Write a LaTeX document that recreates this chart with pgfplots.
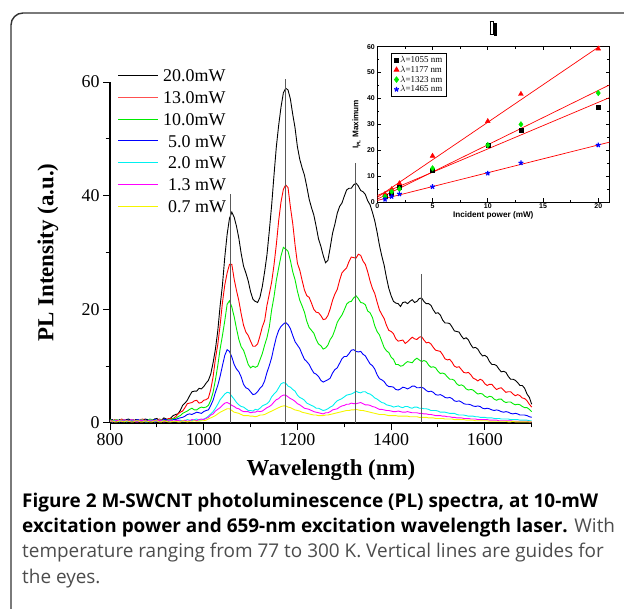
\documentclass[border=0pt]{standalone}
\usepackage{fontspec}
\setmainfont{Liberation Serif}
\newfontfamily\capfont{Open Sans}
\newfontfamily\arialfont{Liberation Sans}
\usepackage{pgfplots}
\usepackage{pgfplotstable}
\pgfplotsset{compat=1.18}
\definecolor{cred}{RGB}{255,0,0}
\definecolor{lred}{RGB}{255,80,80}
\definecolor{cgreen}{RGB}{0,235,0}
\definecolor{cblue}{RGB}{0,0,255}
\definecolor{ccyan}{RGB}{0,240,240}
\definecolor{cmag}{RGB}{255,0,255}
\definecolor{cyel}{RGB}{245,245,0}
\definecolor{guide}{RGB}{90,90,90}

\pgfplotstableread{
wl a b c d e f g
800 0.5 0.3 0.6 0.4 0.3 0.5 0.3
805 0.6 0.3 0.3 0.5 0.2 0.2 0.4
810 0.3 0.6 0.4 0.2 0.5 0.3 0.2
815 0.2 0.4 0.6 0.3 0.4 0.5 0.2
820 0.6 0.4 0.3 0.5 0.2 0.4 0.4
825 0.3 0.7 0.4 0.2 0.5 0.3 0.3
830 0.4 0.5 0.6 0.3 0.4 0.6 0.2
835 0.6 0.3 0.3 0.5 0.2 0.4 0.4
840 0.7 0.3 0.4 0.5 0.3 0.3 0.3
845 0.4 0.5 0.6 0.2 0.5 0.6 0.2
850 0.3 0.6 0.5 0.3 0.5 0.5 0.2
855 0.6 0.3 0.3 0.5 0.3 0.2 0.4
860 0.5 0.4 0.3 0.6 0.3 0.2 0.4
865 0.3 0.6 0.5 0.3 0.5 0.5 0.2
870 0.4 0.7 0.5 0.3 0.5 0.4 0.2
875 0.7 0.4 0.3 0.5 0.2 0.3 0.4
880 0.6 0.3 0.4 0.5 0.2 0.3 0.3
885 0.3 0.5 0.7 0.3 0.5 0.5 0.2
890 0.4 0.5 0.6 0.3 0.4 0.5 0.2
895 0.7 0.3 0.4 0.6 0.2 0.3 0.4
900 0.8 0.4 0.3 0.5 0.3 0.3 0.4
905 0.4 0.7 0.5 0.3 0.5 0.5 0.2
910 0.5 0.6 0.5 0.4 0.5 0.4 0.2
915 0.9 0.4 0.3 0.6 0.3 0.2 0.4
920 0.7 0.5 0.4 0.6 0.3 0.3 0.3
925 0.6 0.8 0.6 0.3 0.5 0.5 0.2
930 0.9 0.8 0.6 0.4 0.4 0.5 0.2
935 1.3 0.8 0.8 0.6 0.3 0.3 0.3
940 1.5 1.1 0.8 0.6 0.3 0.4 0.3
945 1.6 1.6 1.1 0.8 0.5 0.5 0.2
950 2.2 1.9 1.3 0.9 0.5 0.3 0.2
955 3.1 2.1 1.7 1.0 0.3 0.4 0.4
960 3.5 2.7 1.9 1.2 0.4 0.5 0.3
965 4.0 3.4 2.1 1.5 0.6 0.3 0.2
970 4.8 3.5 2.4 1.6 0.5 0.4 0.3
975 5.5 3.6 2.6 1.5 0.4 0.6 0.3
980 5.6 3.9 2.3 1.7 0.6 0.5 0.4
985 5.6 4.0 2.3 1.9 0.7 0.4 0.3
990 6.1 3.5 2.6 1.8 0.5 0.6 0.3
995 6.0 3.6 2.8 1.7 0.5 0.7 0.4
1000 6.4 4.0 2.7 2.0 0.7 0.6 0.4
1005 7.0 4.1 2.8 2.2 0.9 0.8 0.5
1010 7.5 4.4 3.1 2.3 1.2 1.0 0.7
1015 8.6 5.9 4.0 3.1 1.6 1.4 0.9
1020 10.6 8.1 5.4 4.0 2.0 1.6 1.1
1025 13.0 11.3 7.6 5.4 2.6 2.1 1.3
1030 16.2 13.8 10.1 6.6 3.3 2.4 1.6
1035 20.6 17.2 13.0 8.2 4.1 2.7 1.9
1040 24.3 21.2 15.4 10.1 4.6 3.1 2.1
1045 29.2 24.3 18.0 11.9 5.1 3.5 2.3
1050 33.2 26.4 20.9 12.9 5.4 3.6 2.5
1055 36.0 27.9 21.5 12.6 5.3 3.4 2.5
1060 37.1 27.9 20.4 11.6 4.7 3.1 2.2
1065 36.2 25.3 18.7 10.3 4.2 2.9 1.9
1070 34.6 23.3 16.6 9.5 3.6 2.6 1.8
1075 32.5 21.5 14.7 9.0 3.2 2.5 1.7
1080 29.8 19.2 13.4 8.1 2.9 2.2 1.5
1085 27.6 17.2 12.8 6.8 2.8 2.0 1.3
1090 26.4 16.0 11.6 6.2 2.5 2.0 1.3
1095 25.0 15.4 10.3 6.0 2.2 2.0 1.3
1100 23.1 14.4 9.7 5.5 2.2 1.8 1.2
1105 21.8 13.5 10.0 5.0 2.1 1.9 1.2
1110 21.4 13.5 9.8 5.1 2.4 1.9 1.1
1115 21.2 13.9 10.0 5.5 2.3 2.1 1.2
1120 22.1 15.3 11.1 6.1 2.6 2.0 1.4
1125 24.0 16.9 12.2 6.5 3.0 2.1 1.4
1130 26.6 18.0 13.7 7.4 3.2 2.4 1.5
1135 29.6 20.7 15.0 8.9 3.4 2.7 1.7
1140 33.8 22.7 16.9 10.1 3.8 2.9 1.9
1145 38.3 24.8 19.9 11.5 4.6 3.2 2.1
1150 43.6 27.8 22.2 13.4 5.1 3.7 2.3
1155 48.6 31.4 25.1 15.1 5.5 4.1 2.5
1160 52.4 35.6 27.3 16.3 6.2 4.3 2.7
1165 55.6 38.9 29.4 17.0 6.9 4.7 2.9
1170 58.1 41.1 30.9 17.4 7.1 4.9 3.0
1175 58.9 41.9 30.6 17.7 7.0 4.9 3.0
1180 58.6 41.4 30.2 17.3 6.5 4.6 2.8
1185 57.0 38.0 28.6 16.6 6.3 4.3 2.7
1190 54.3 35.1 26.6 15.4 5.9 4.1 2.5
1195 51.9 31.3 25.2 14.3 5.6 3.8 2.3
1200 48.6 28.1 23.2 13.7 4.9 3.4 2.2
1205 46.4 26.9 21.6 13.1 4.5 3.2 2.1
1210 44.9 25.1 20.6 12.1 4.3 2.9 1.9
1215 43.6 23.4 19.5 11.2 4.0 2.6 1.8
1220 41.6 22.4 17.9 10.8 3.5 2.5 1.7
1225 39.4 22.1 16.8 10.3 3.3 2.4 1.6
1230 37.9 21.1 16.3 9.5 3.1 2.2 1.5
1235 36.6 20.0 15.8 8.8 2.9 2.0 1.4
1240 34.6 19.5 14.7 8.6 2.6 1.9 1.4
1245 32.4 19.4 13.9 8.2 2.6 1.8 1.3
1250 31.1 18.9 13.6 7.5 2.4 1.7 1.3
1255 29.5 18.2 13.0 7.2 2.2 1.6 1.3
1260 28.2 18.3 13.2 7.4 2.3 1.8 1.4
1265 28.6 18.9 13.7 7.6 2.5 1.8 1.4
1270 30.9 20.1 14.7 7.9 2.8 2.0 1.5
1275 33.4 21.6 15.3 8.8 3.0 2.3 1.6
1280 35.0 22.7 16.4 9.4 3.5 2.4 1.7
1285 36.9 23.5 17.7 9.7 3.9 2.5 1.8
1290 38.1 25.1 18.4 10.5 4.1 2.8 1.9
1295 38.7 26.4 19.0 11.3 4.3 3.0 2.0
1300 39.9 26.9 19.9 11.7 4.6 3.1 2.1
1305 41.0 27.3 20.9 11.7 4.9 3.3 2.2
1310 41.3 28.4 21.3 12.2 5.0 3.3 2.2
1315 41.3 29.2 21.4 12.8 5.1 3.5 2.3
1320 41.9 29.1 22.0 12.9 5.3 3.4 2.3
1325 42.2 29.0 22.4 12.6 5.6 3.4 2.4
1330 41.7 29.7 21.9 12.5 5.4 3.5 2.3
1335 40.9 29.5 21.2 12.6 5.3 3.6 2.2
1340 40.7 28.5 21.1 12.1 5.5 3.4 2.2
1345 40.2 27.9 20.8 11.8 5.5 3.2 2.1
1350 39.1 26.6 19.7 11.1 5.2 3.2 2.0
1355 38.4 25.0 19.4 10.4 5.1 3.1 1.9
1360 37.1 23.7 18.6 10.1 4.8 2.9 1.8
1365 35.6 22.8 17.1 9.5 4.4 2.8 1.7
1370 33.6 21.3 16.1 8.5 4.2 2.6 1.6
1375 31.3 19.9 15.5 7.8 3.9 2.4 1.5
1380 29.4 19.1 14.4 7.6 3.6 2.4 1.5
1385 27.8 18.4 13.3 7.3 3.5 2.3 1.5
1390 25.6 17.2 12.7 6.7 3.2 2.2 1.4
1395 23.7 16.3 12.4 6.4 3.1 2.2 1.3
1400 22.4 16.1 11.6 6.4 3.0 2.1 1.3
1405 21.4 15.7 11.2 6.3 2.8 2.0 1.3
1410 21.1 14.8 10.3 5.9 2.9 2.0 1.3
1415 21.0 14.4 10.3 5.8 3.0 2.1 1.2
1420 20.5 14.5 10.0 6.0 2.8 2.0 1.2
1425 21.2 14.6 10.1 6.3 2.7 1.9 1.2
1430 21.3 14.0 10.5 6.2 2.9 1.9 1.2
1435 21.0 14.3 10.8 6.0 2.9 2.0 1.2
1440 21.4 14.7 10.7 6.2 2.7 1.9 1.1
1445 21.7 15.1 10.6 6.5 2.6 1.8 1.1
1450 21.2 14.8 11.1 6.5 2.8 1.8 1.1
1455 21.4 14.7 11.4 6.2 2.8 1.8 1.1
1460 21.9 15.1 11.1 6.2 2.6 1.7 1.0
1465 22.0 15.2 10.8 6.3 2.6 1.7 1.0
1470 21.4 14.6 11.0 6.1 2.5 1.6 1.0
1475 21.0 14.1 10.8 5.7 2.5 1.6 1.0
1480 21.0 14.2 10.2 5.5 2.4 1.5 0.9
1485 20.7 13.9 9.8 5.6 2.2 1.5 0.9
1490 19.9 13.3 9.9 5.4 2.2 1.4 0.9
1495 19.3 12.8 9.7 5.0 2.2 1.3 0.8
1500 19.4 12.7 9.1 4.9 2.1 1.3 0.8
1505 19.0 12.6 8.7 5.0 1.9 1.3 0.8
1510 18.1 12.0 8.8 4.8 1.9 1.2 0.8
1515 17.6 11.3 8.6 4.5 1.9 1.2 0.7
1520 17.6 11.1 8.1 4.4 1.8 1.1 0.7
1525 17.5 11.2 7.7 4.5 1.7 1.1 0.7
1530 16.9 10.7 7.7 4.3 1.7 1.0 0.7
1535 16.2 10.0 7.5 3.9 1.7 1.0 0.6
1540 16.1 9.8 6.9 3.8 1.5 0.9 0.6
1545 16.0 9.9 6.6 3.9 1.4 0.9 0.6
1550 15.3 9.4 6.7 3.7 1.4 0.9 0.6
1555 14.8 8.9 6.5 3.4 1.4 0.8 0.6
1560 15.0 8.8 6.0 3.3 1.3 0.8 0.5
1565 14.6 8.9 5.8 3.3 1.2 0.8 0.5
1570 13.8 8.5 5.9 3.2 1.2 0.7 0.5
1575 13.2 7.9 5.8 3.0 1.2 0.7 0.5
1580 13.3 7.7 5.4 2.9 1.1 0.7 0.4
1585 13.0 7.4 5.1 3.0 1.1 0.6 0.4
1590 12.3 7.7 5.2 2.9 1.0 0.6 0.4
1595 11.8 7.5 5.1 2.6 1.0 0.6 0.4
1600 11.9 6.9 4.7 2.5 1.0 0.6 0.4
1605 11.6 6.6 4.5 2.6 0.9 0.6 0.4
1610 10.8 6.8 4.7 2.5 0.9 0.5 0.3
1615 10.3 6.8 4.6 2.3 0.9 0.5 0.3
1620 10.3 6.3 4.2 2.2 0.8 0.5 0.3
1625 10.1 5.9 4.0 2.3 0.8 0.5 0.3
1630 9.5 6.1 4.2 2.2 0.8 0.4 0.3
1635 9.0 6.2 4.2 2.0 0.7 0.4 0.3
1640 9.1 5.8 3.8 1.9 0.7 0.4 0.3
1645 8.9 5.4 3.6 2.0 0.7 0.4 0.3
1650 8.2 5.5 3.7 1.9 0.7 0.4 0.2
1655 7.7 5.5 3.7 1.7 0.6 0.4 0.2
1660 7.7 5.1 3.4 1.6 0.6 0.3 0.3
1665 7.5 4.8 3.2 1.7 0.6 0.3 0.2
1670 7.1 5.0 3.3 1.6 0.6 0.3 0.2
1675 6.6 4.8 3.2 1.4 0.5 0.3 0.2
1680 6.6 4.4 2.9 1.4 0.5 0.3 0.2
1685 6.1 4.3 2.7 1.4 0.5 0.3 0.2
1690 5.1 3.9 2.7 1.3 0.5 0.3 0.2
1695 4.5 3.3 2.4 1.1 0.4 0.2 0.2
1700 3.3 2.8 2.0 1.0 0.4 0.2 0.2
}\spectra

\pgfplotstableread{
p q
0.7 2.1
1.3 3.3
2 5.9
5 12.1
10 21.8
13 27.9
20 36.7
}\pa
\pgfplotstableread{
p q
0.7 3.1
1.3 4.9
2 7.2
5 17.8
10 31.2
13 41.7
20 59.2
}\pb
\pgfplotstableread{
p q
0.7 2.1
1.3 4.0
2 5.0
5 13.0
10 22.0
13 30.0
20 42.1
}\pc
\pgfplotstableread{
p q
0.7 1.0
1.3 2.1
2 3.1
5 5.9
10 11.1
13 15.1
20 22.0
}\pd

\begin{document}
\begin{tikzpicture}[x=1bp,y=1bp]
\useasboundingbox (0bp,0bp) rectangle (624bp,609bp);
\draw[line width=1.4bp, black!80, rounded corners=12bp] (11bp,-30bp) -- (11bp,596bp) -- (660bp,596bp);

\begin{axis}[
  at={(110bp,186bp)}, anchor=south west,
  scale only axis, width=421.7bp, height=341bp,
  xmin=800, xmax=1700, ymin=0, ymax=60,
  axis x line*=bottom, axis y line*=left,
  axis line style={line width=1.1bp, -},
  tick align=outside,
  xtick={800,1000,...,1600}, ytick={0,20,40,60},
  minor xtick={900,1100,1300,1500,1700}, minor ytick={10,30,50},
  major tick length=7bp, minor tick length=4.5bp,
  every tick/.style={line width=1bp, black},
  ticklabel style={font=\fontsize{18}{20}\selectfont},
  /pgf/number format/assume math mode=true,
  /pgf/number format/1000 sep={},
  xlabel={\bfseries Wavelength (nm)},
  ylabel={\bfseries PL Intensity (a.u.)},
  label style={font=\fontsize{23}{26}\selectfont},
  xlabel style={at={(rel axis cs:0.524,0)}, anchor=center, yshift=-47bp},
  ylabel style={at={(rel axis cs:0,0.5)}, anchor=center, yshift=62bp},
  clip=false,
]
\addplot[black, line width=0.9bp] table[x=wl, y=a] {\spectra};
\addplot[cred, line width=0.9bp] table[x=wl, y=b] {\spectra};
\addplot[cgreen, line width=0.9bp] table[x=wl, y=c] {\spectra};
\addplot[cblue, line width=0.9bp] table[x=wl, y=d] {\spectra};
\addplot[ccyan, line width=0.9bp] table[x=wl, y=e] {\spectra};
\addplot[cmag, line width=0.9bp] table[x=wl, y=f] {\spectra};
\addplot[cyel, line width=0.9bp] table[x=wl, y=g] {\spectra};
\addplot[guide, line width=1.2bp] coordinates {(1058,0) (1058,40.3)};
\addplot[guide, line width=1.2bp] coordinates {(1174,0) (1174,60.5)};
\addplot[guide, line width=1.2bp] coordinates {(1324,0) (1324,45.8)};
\addplot[guide, line width=1.2bp] coordinates {(1464,0) (1464,26.3)};
\end{axis}

% legend of the spectra
\begin{scope}[font=\fontsize{18}{20}\selectfont]
\draw[black, line width=1.7bp] (118.3bp,533.5bp) -- (158.3bp,533.5bp);
\node[anchor=base west, inner sep=0] at (163bp,527.2bp) {20.0mW};
\draw[lred, line width=1.7bp] (118.3bp,511.5bp) -- (158.3bp,511.5bp);
\node[anchor=base west, inner sep=0] at (163bp,505.4bp) {13.0mW};
\draw[cgreen, line width=1.7bp] (118.3bp,489.5bp) -- (158.3bp,489.5bp);
\node[anchor=base west, inner sep=0] at (163bp,483.6bp) {10.0mW};
\draw[cblue, line width=1.7bp] (118.3bp,468.5bp) -- (158.3bp,468.5bp);
\node[anchor=base west, inner sep=0] at (168bp,461.8bp) {5.0 mW};
\draw[ccyan, line width=1.7bp] (118.3bp,446.5bp) -- (158.3bp,446.5bp);
\node[anchor=base west, inner sep=0] at (168bp,440.0bp) {2.0 mW};
\draw[cmag, line width=1.7bp] (118.3bp,424.5bp) -- (158.3bp,424.5bp);
\node[anchor=base west, inner sep=0] at (168bp,418.2bp) {1.3 mW};
\draw[cyel, line width=1.7bp] (118.3bp,402.5bp) -- (158.3bp,402.5bp);
\node[anchor=base west, inner sep=0] at (168bp,396.4bp) {0.7 mW};
\end{scope}

\begin{axis}[
  at={(377.3bp,407bp)}, anchor=south west,
  scale only axis, width=232bp, height=155.3bp,
  xmin=0, xmax=21, ymin=0, ymax=60,
  xtick={0,5,...,20}, ytick={0,10,...,60},
  minor x tick num=1, minor y tick num=1,
  tick align=inside,
  major tick length=3.5bp, minor tick length=2bp,
  axis line style={line width=0.8bp},
  every tick/.style={line width=0.7bp, black},
  ticklabel style={font=\arialfont\bfseries\fontsize{7}{8}\selectfont},
  /pgf/number format/assume math mode=true,
  xticklabel style={yshift=1.5bp},
  yticklabel style={xshift=1bp},
  xlabel={Incident power (mW)},
  ylabel={I\raisebox{-2bp}{\fontsize{5}{5}\selectfont PL} Maximum},
  label style={font=\arialfont\bfseries\fontsize{8.2}{9}\selectfont},
  xlabel style={at={(rel axis cs:0.5,0)}, anchor=center, yshift=-13bp},
  ylabel style={at={(rel axis cs:0,0.5)}, anchor=center, yshift=21bp},
  title={\setlength{\fboxsep}{0pt}\setlength{\fboxrule}{0.8bp}\fbox{\rule{0pt}{12bp}\hspace{2.5bp}}\hspace{0.3bp}\rule[-2bp]{3bp}{13bp}},
  title style={at={(rel axis cs:0.5,1)}, anchor=south, yshift=1bp},
  legend style={at={(0.058,0.961)}, anchor=north west, draw=black, line width=0.7bp,
    font=\fontsize{9}{9}\selectfont, row sep=0bp,
    nodes={inner sep=1.3bp, text height=6.2bp, text depth=1bp}},
  legend cell align=left,
]
\addplot[red, line width=0.7bp, forget plot] coordinates {(0,1.8) (21,62.7)};
\addplot[red, line width=0.7bp, forget plot] coordinates {(0,1.1) (21,45.2)};
\addplot[red, line width=0.7bp, forget plot] coordinates {(0,2.5) (21,40.3)};
\addplot[red, line width=0.7bp, forget plot] coordinates {(0,0.6) (21,23.1)};
\addplot[only marks, mark=square*, mark size=2bp, black] table[x=p, y=q] {\pa};
\addlegendentry{$\lambda$=1055 nm}
\addplot[only marks, mark=triangle*, mark size=2.8bp, red] table[x=p, y=q] {\pb};
\addlegendentry{$\lambda$=1177 nm}
\addplot[only marks, mark=diamond*, mark size=2.8bp, cgreen] table[x=p, y=q] {\pc};
\addlegendentry{$\lambda$=1323 nm}
\addplot[only marks, mark=star, mark size=2.5bp, cblue, line width=1.2bp] table[x=p, y=q] {\pd};
\addlegendentry{$\lambda$=1465 nm}
\end{axis}

\node[anchor=base west, inner sep=0, font=\capfont\bfseries\fontsize{19}{22}\selectfont] at (22bp,101bp) {Figure 2 M-SWCNT photoluminescence (PL) spectra, at 10-mW};
\node[anchor=base west, inner sep=0, font=\capfont\fontsize{19}{22}\selectfont] at (22bp,76bp) {\bfseries excitation power and 659-nm excitation wavelength laser.\mdseries{} \textcolor{black!70}{With}};
\node[anchor=base west, inner sep=0, font=\capfont\fontsize{19}{22}\selectfont, text=black!70] at (22bp,51bp) {temperature ranging from 77 to 300 K. Vertical lines are guides for};
\node[anchor=base west, inner sep=0, font=\capfont\fontsize{19}{22}\selectfont, text=black!70] at (22bp,26bp) {the eyes.};
\end{tikzpicture}
\end{document}
